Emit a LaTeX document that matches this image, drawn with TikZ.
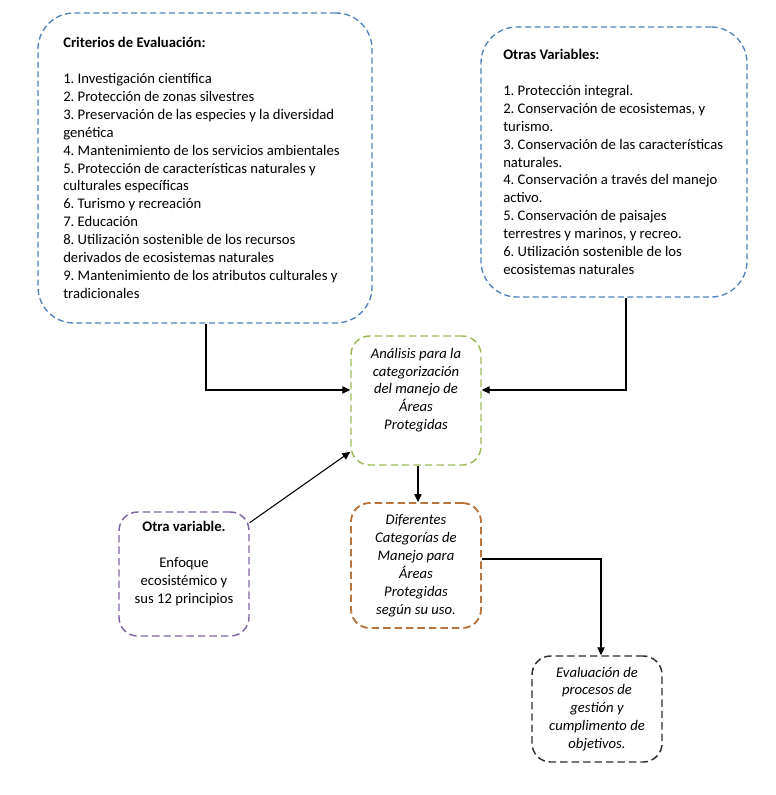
\documentclass[tikz,border=0pt]{standalone}
\usepackage{fontspec}
\setmainfont{Carlito}
\usetikzlibrary{arrows.meta}
\definecolor{cblue}{RGB}{79,129,189}
\definecolor{cgreen}{RGB}{155,187,89}
\definecolor{cpurple}{RGB}{128,100,162}
\definecolor{cbrown}{RGB}{185,115,60}
\definecolor{cdark}{RGB}{45,45,45}
\frenchspacing
\begin{document}
\begin{tikzpicture}[x=0.75pt,y=-0.75pt,
  every node/.style={font=\fontsize{11pt}{13.43pt}\selectfont},
  bigbox/.style={draw=cblue,line width=1pt,dash pattern=on 4.5pt off 2.6pt,rounded corners=27pt,inner sep=0pt},
  listtext/.style={anchor=west,align=left,inner sep=0pt},
  smallbox/.style={line width=1.1pt,dash pattern=on 5.6pt off 3pt,rounded corners=14pt,align=center,inner sep=0pt,minimum width=97.5pt},
  conn/.style={draw=black,line width=0.8pt,-{Triangle[length=6pt,width=5.5pt]}}]
\useasboundingbox (0,0) rectangle (775,795);

\node[bigbox,minimum width=250.5pt,minimum height=232.5pt] (crit) at (205,168) {};
\node[listtext] (crittext) at (63,168) {%
\textbf{Criterios de Evaluación:}\\[13.43pt]
1. Investigación científica\\
2. Protección de zonas silvestres\\
3. Preservación de las especies y la diversidad\\
genética\\
4. Mantenimiento de los servicios ambientales\\
5. Protección de características naturales y\\
culturales específicas\\
6. Turismo y recreación\\
7. Educación\\
8. Utilización sostenible de los recursos\\
derivados de ecosistemas naturales\\
9. Mantenimiento de los atributos culturales y\\
tradicionales};

\node[bigbox,minimum width=199.5pt,minimum height=202.5pt] (otras) at (614,162) {};
\node[listtext] (otrastext) at (503,162) {%
\textbf{Otras Variables:}\\[13.43pt]
1. Protección integral.\\
2. Conservación de ecosistemas, y\\
turismo.\\
3. Conservación de las características\\
naturales.\\
4. Conservación a través del manejo\\
activo.\\
5. Conservación de paisajes\\
terrestres y marinos, y recreo.\\
6. Utilización sostenible de los\\
ecosistemas naturales};

\node[smallbox,draw=cgreen,minimum height=96.75pt] (anal) at (416,400.5) {%
\itshape Análisis para la\\
\itshape categorización\\
\itshape del manejo de\\
\itshape Áreas\\
\itshape Protegidas\\
\strut};

\node[smallbox,draw=cpurple,minimum height=93pt] (otra) at (184,574) {%
\textbf{Otra variable.}\\[13.43pt]
Enfoque\\
ecosistémico y\\
sus 12 principios\\
\strut};

\node[smallbox,draw=cbrown,line width=1.4pt,minimum height=93.75pt] (dif) at (416,565.5) {%
\itshape Diferentes\\
\itshape Categorías de\\
\itshape Manejo para\\
\itshape Áreas\\
\itshape Protegidas\\
\itshape según su uso.};

\node[smallbox,draw=cdark,minimum height=79.5pt] (eval) at (597,709) {%
\itshape Evaluación de\\
\itshape procesos de\\
\itshape gestión y\\
\itshape cumplimento de\\
\itshape objetivos.};

\draw[conn] ([xshift=0.75pt]crit.south) |- ([yshift=7.9pt]anal.west);
\draw[conn] ([xshift=9pt]otras.south) |- ([yshift=7.9pt]anal.east);
\draw[conn] (otra.38.6) -- (anal.218);
\draw[conn] ([xshift=1.5pt]anal.south) -- ([xshift=1.5pt]dif.north);
\draw[conn] ([yshift=4.9pt]dif.east) -| ([xshift=3pt]eval.north);
\end{tikzpicture}
\end{document}
